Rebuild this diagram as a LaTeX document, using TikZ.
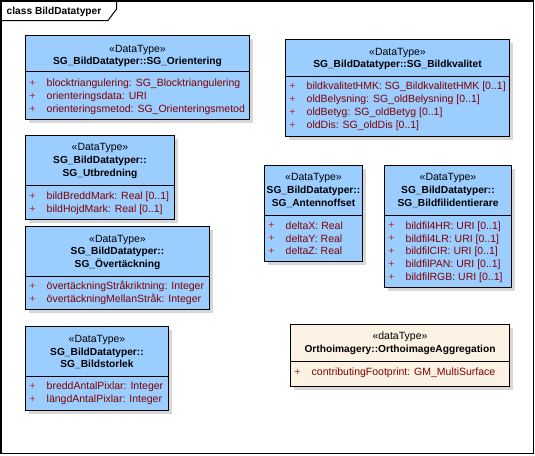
\documentclass[tikz,border=0pt]{standalone}
\usepackage{fontspec}
\setmainfont{Liberation Sans}
\usetikzlibrary{positioning}

\definecolor{dtblue}{RGB}{155,205,255}
\definecolor{dtbeige}{RGB}{251,242,228}
\definecolor{attrred}{RGB}{128,0,0}
\definecolor{plusred}{RGB}{190,40,40}
\definecolor{shadowgray}{RGB}{215,215,215}

\begin{document}
\begin{tikzpicture}[
    x=1pt, y=-1pt,
    classbox/.style={draw=black, line width=0.9pt},
    shadow/.style={fill=shadowgray},
    stereo/.style={font=\fontsize{10.5}{12}\selectfont, inner sep=0pt, text height=8pt, text depth=1.5pt},
    cname/.style={font=\fontsize{10.2}{12}\selectfont\bfseries, inner sep=0pt, text height=8pt, text depth=1.5pt},
    attr/.style={font=\fontsize{10.5}{12}\selectfont, text=attrred, anchor=west, inner sep=0pt, text height=8pt, text depth=1.5pt},
    plus/.style={font=\fontsize{10.5}{12}\selectfont, text=plusred, inner sep=0pt}
]
    \useasboundingbox (0,0) rectangle (535,455);

    % Frame with tab
    \draw[line width=1.3pt] (1,1) rectangle (533.5,453.5);
    \draw[line width=1pt] (1,20.5) -- (108,20.5) -- (116.5,9) -- (116.5,1);
    \node[cname, anchor=west] (frame-title) at (6.5,11) {class BildDatatyper};

    % SG_Orientering
    \fill[shadow] (28.5,38.5) rectangle (252.5,122.5);
    \draw[classbox, fill=dtblue] (25.5,35.5) rectangle (249.5,119.5);
    \draw[classbox] (25.5,71.5) -- (249.5,71.5);
    \node[stereo] (ori-st) at (137.5,49) {«DataType»};
    \node[cname] (ori-name) at (137.5,61) {SG\_BildDatatyper::SG\_Orientering};
    \foreach \a [count=\i] in {blocktriangulering: SG\_Blocktriangulering, orienteringsdata: URI, orienteringsmetod: SG\_Orienteringsmetod} {
        \node[plus] (ori-p\i) at (32.5,{70+13*\i}) {+};
        \node[attr] (ori-a\i) at (46.5,{70+13*\i}) {\a};
    }

    % SG_Bildkvalitet
    \fill[shadow] (288.5,42.5) rectangle (512.5,139.5);
    \draw[classbox, fill=dtblue] (285.5,39.5) rectangle (509.5,136.5);
    \draw[classbox] (285.5,76) -- (509.5,76);
    \node[stereo] (kval-st) at (397.5,52.7) {«DataType»};
    \node[cname] (kval-name) at (397.5,64.3) {SG\_BildDatatyper::SG\_Bildkvalitet};
    \foreach \a [count=\i] in {bildkvalitetHMK: SG\_BildkvalitetHMK [0..1], oldBelysning: SG\_oldBelysning [0..1], oldBetyg: SG\_oldBetyg [0..1], oldDis: SG\_oldDis [0..1]} {
        \node[plus] (kval-p\i) at (292.5,{73.5+13*\i}) {+};
        \node[attr] (kval-a\i) at (306.5,{73.5+13*\i}) {\a};
    }

    % SG_Utbredning
    \fill[shadow] (28.5,138.5) rectangle (177.5,222.5);
    \draw[classbox, fill=dtblue] (25.5,135.5) rectangle (174.5,219.5);
    \draw[classbox] (25.5,185) -- (174.5,185);
    \node[stereo] (utb-st) at (100,147.3) {«DataType»};
    \node[cname] (utb-pkg) at (100,160.5) {SG\_BildDatatyper::};
    \node[cname] (utb-name) at (100,173.3) {SG\_Utbredning};
    \foreach \a [count=\i] in {bildBreddMark: Real [0..1], bildHojdMark: Real [0..1]} {
        \node[plus] (utb-p\i) at (32.5,{183+13*\i}) {+};
        \node[attr] (utb-a\i) at (46.5,{183+13*\i}) {\a};
    }

    % SG_Övertäckning
    \fill[shadow] (28.5,229.5) rectangle (212.5,312.5);
    \draw[classbox, fill=dtblue] (25.5,226.5) rectangle (209.5,309.5);
    \draw[classbox] (25.5,276) -- (209.5,276);
    \node[stereo] (ovt-st) at (117.5,239) {«DataType»};
    \node[cname] (ovt-pkg) at (117.5,251.7) {SG\_BildDatatyper::};
    \node[cname] (ovt-name) at (117.5,264.3) {SG\_Övertäckning};
    \foreach \a [count=\i] in {övertäckningStråkriktning: Integer, övertäckningMellanStråk: Integer} {
        \node[plus] (ovt-p\i) at (32.5,{273.5+13*\i}) {+};
        \node[attr] (ovt-a\i) at (46.5,{273.5+13*\i}) {\a};
    }

    % SG_Antennoffset
    \fill[shadow] (267.5,168.5) rectangle (365.5,264.5);
    \draw[classbox, fill=dtblue] (264.5,165.5) rectangle (362.5,261.5);
    \draw[classbox] (264.5,215) -- (362.5,215);
    \node[stereo] (ant-st) at (313.5,177.3) {«DataType»};
    \node[cname] (ant-pkg) at (313.5,190.7) {SG\_BildDatatyper::};
    \node[cname] (ant-name) at (313.5,203.3) {SG\_Antennoffset};
    \foreach \a [count=\i] in {deltaX: Real, deltaY: Real, deltaZ: Real} {
        \node[plus] (ant-p\i) at (271.5,{213+12.9*\i}) {+};
        \node[attr] (ant-a\i) at (285.5,{213+12.9*\i}) {\a};
    }

    % SG_Bildfilidentierare
    \fill[shadow] (387.5,168.5) rectangle (514.5,290.5);
    \draw[classbox, fill=dtblue] (384.5,165.5) rectangle (511.5,287.5);
    \draw[classbox] (384.5,215) -- (511.5,215);
    \node[stereo] (bfi-st) at (448,177.3) {«DataType»};
    \node[cname] (bfi-pkg) at (448,190.7) {SG\_BildDatatyper::};
    \node[cname] (bfi-name) at (448,203.3) {SG\_Bildfilidentierare};
    \foreach \a [count=\i] in {bildfil4HR: URI [0..1], bildfil4LR: URI [0..1], bildfilCIR: URI [0..1], bildfilPAN: URI [0..1], bildfilRGB: URI [0..1]} {
        \node[plus] (bfi-p\i) at (391.5,{213+12.9*\i}) {+};
        \node[attr] (bfi-a\i) at (405.5,{213+12.9*\i}) {\a};
    }

    % SG_Bildstorlek
    \fill[shadow] (28.5,329.5) rectangle (171.5,413.5);
    \draw[classbox, fill=dtblue] (25.5,326.5) rectangle (168.5,410.5);
    \draw[classbox] (25.5,376) -- (168.5,376);
    \node[stereo] (bst-st) at (97,339.3) {«DataType»};
    \node[cname] (bst-pkg) at (97,352) {SG\_BildDatatyper::};
    \node[cname] (bst-name) at (97,364.3) {SG\_Bildstorlek};
    \foreach \a [count=\i] in {breddAntalPixlar: Integer, längdAntalPixlar: Integer} {
        \node[plus] (bst-p\i) at (32.5,{373.5+13*\i}) {+};
        \node[attr] (bst-a\i) at (46.5,{373.5+13*\i}) {\a};
    }

    % Orthoimagery::OrthoimageAggregation
    \fill[shadow] (293.5,327.5) rectangle (512.5,389.5);
    \draw[classbox, fill=dtbeige] (290.5,324.5) rectangle (509.5,386.5);
    \draw[classbox] (290.5,361.5) -- (509.5,361.5);
    \node[stereo] (orth-st) at (400,336.7) {«dataType»};
    \node[cname] (orth-name) at (400,349.7) {Orthoimagery::OrthoimageAggregation};
    \node[plus] (orth-p1) at (297.5,372) {+};
    \node[attr] (orth-a1) at (311.5,372) {contributingFootprint: GM\_MultiSurface};

\end{tikzpicture}
\end{document}
